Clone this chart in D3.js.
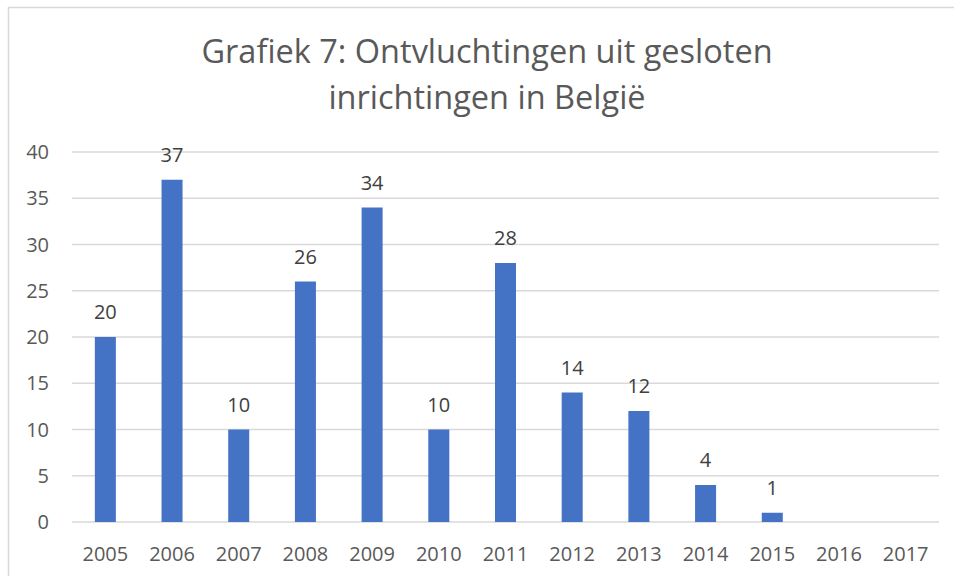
<!DOCTYPE html>
<html lang="nl">
<head>
	<meta charset="UTF-8">
	<title>Grafiek 7</title>
	<script src="https://cdn.jsdelivr.net/npm/d3@7"></script>
	<style>
		body { margin: 0; background: #fff; }
		text { font-family: "Open Sans", "Noto Sans", sans-serif; }
	</style>
</head>
<body>
	<svg id="svg"></svg>
	<script>
		var years = ["2005", "2006", "2007", "2008", "2009", "2010", "2011", "2012", "2013", "2014", "2015", "2016", "2017"];
		var escapes = [20, 37, 10, 26, 34, 10, 28, 14, 12, 4, 1, null, null];
		var yTicks = [0, 5, 10, 15, 20, 25, 30, 35, 40];
		var titleLines = ["Grafiek 7: Ontvluchtingen uit gesloten", "inrichtingen in België"];

		var w = 954, h = 576;
		var svg = d3.select("#svg").attr("width", w).attr("height", h);

		// chart frame
		svg.append("rect")
			.attr("x", 8.5).attr("y", 7.5)
			.attr("width", 954).attr("height", 600)
			.attr("fill", "none").attr("stroke", "#d9d9d9").attr("stroke-width", 1.5);

		var plotLeft = 72, plotRight = 939, plotTop = 152, plotBottom = 522;

		var x = d3.scaleBand().domain(years).range([plotLeft, plotRight]).paddingInner(0.685).paddingOuter(0.3425);
		var y = d3.scaleLinear().domain([0, 40]).range([plotBottom, plotTop]);

		svg.selectAll(".title")
			.data(titleLines)
			.enter().append("text")
			.attr("x", 487)
			.attr("y", function(d, i) { return 63 + i * 46; })
			.attr("text-anchor", "middle")
			.attr("font-size", 32.5)
			.attr("fill", "#595959")
			.text(function(d) { return d; });

		svg.selectAll(".grid")
			.data(yTicks)
			.enter().append("line")
			.attr("x1", plotLeft).attr("x2", plotRight)
			.attr("y1", function(d) { return y(d); })
			.attr("y2", function(d) { return y(d); })
			.attr("stroke", "#d9d9d9").attr("stroke-width", 1.5);

		svg.selectAll(".ylab")
			.data(yTicks)
			.enter().append("text")
			.attr("x", 49)
			.attr("y", function(d) { return y(d) + 7; })
			.attr("text-anchor", "end")
			.attr("font-size", 20)
			.attr("fill", "#595959")
			.text(function(d) { return d; });

		svg.selectAll(".xlab")
			.data(years)
			.enter().append("text")
			.attr("x", function(d) { return x(d) + x.bandwidth() / 2; })
			.attr("y", 561)
			.attr("text-anchor", "middle")
			.attr("font-size", 20)
			.attr("fill", "#595959")
			.text(function(d) { return d; });

		var data = years.map(function(d, i) { return { year: d, value: escapes[i] }; })
			.filter(function(d) { return d.value != null; });

		svg.selectAll(".bar")
			.data(data)
			.enter().append("rect")
			.attr("x", function(d) { return x(d.year); })
			.attr("width", x.bandwidth())
			.attr("y", function(d) { return y(d.value); })
			.attr("height", function(d) { return plotBottom - y(d.value); })
			.attr("fill", "#4472c4");

		svg.selectAll(".vlab")
			.data(data)
			.enter().append("text")
			.attr("x", function(d) { return x(d.year) + x.bandwidth() / 2; })
			.attr("y", function(d) { return y(d.value) - 18; })
			.attr("text-anchor", "middle")
			.attr("font-size", 20)
			.attr("fill", "#404040")
			.text(function(d) { return d.value; });
	</script>
</body>
</html>
